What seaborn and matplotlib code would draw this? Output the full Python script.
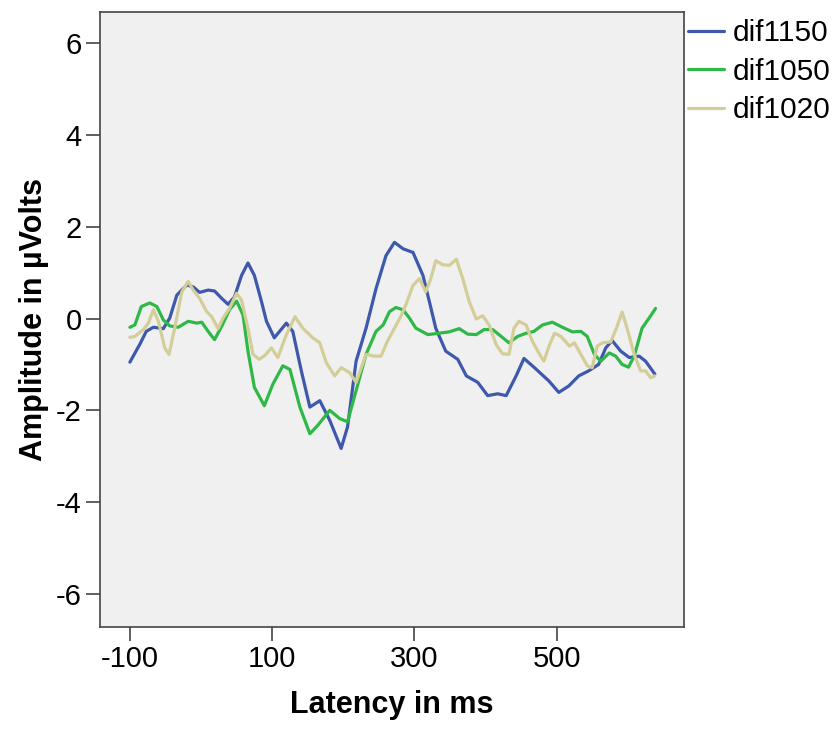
import numpy as np
import pandas as pd
import matplotlib
matplotlib.use("Agg")
import matplotlib.pyplot as plt
import seaborn as sns

# values (latency in ms, amplitude in µV)
ms_1150 = [-100, -86, -77, -67, -53, -44, -34, -20, -11, -2, 10, 19, 29, 38, 47, 57, 66, 75, 85, 92,
           103, 120, 129, 141, 153, 167, 181, 197, 206, 218, 232, 246, 260, 272, 284, 298, 312, 321, 330,
           344, 361, 373, 389, 403, 417, 429, 443, 454, 468, 489, 503, 517, 531, 545, 559, 569, 578, 590,
           602, 616, 625, 638]
amp_1150 = [-0.95, -0.56, -0.28, -0.19, -0.22, 0.01, 0.51, 0.73, 0.69, 0.57, 0.62, 0.60, 0.44, 0.31, 0.47,
            0.94, 1.21, 0.94, 0.37, -0.06, -0.42, -0.10, -0.28, -1.14, -1.93, -1.79, -2.22, -2.83, -2.36,
            -0.93, -0.21, 0.65, 1.37, 1.66, 1.52, 1.44, 0.94, 0.37, -0.21, -0.71, -0.89, -1.25, -1.39,
            -1.68, -1.64, -1.68, -1.25, -0.87, -1.06, -1.36, -1.61, -1.47, -1.25, -1.14, -1.00, -0.64,
            -0.48, -0.71, -0.85, -0.82, -0.93, -1.21]

ms_1050 = [-100, -93, -84, -72, -62, -53, -44, -32, -18, -6, 1, 10, 19, 29, 40, 50, 59, 66, 75, 89, 101,
           115, 125, 139, 153, 164, 181, 195, 206, 218, 232, 246, 256, 265, 274, 284, 293, 302, 319, 335,
           349, 363, 375, 387, 398, 410, 422, 433, 445, 457, 468, 480, 494, 508, 522, 534, 543, 553, 562,
           574, 583, 592, 601, 609, 620, 630, 639]
amp_1050 = [-0.19, -0.14, 0.26, 0.34, 0.26, -0.03, -0.16, -0.19, -0.06, -0.10, -0.08, -0.28, -0.46, -0.17,
            0.19, 0.38, 0.08, -0.71, -1.50, -1.90, -1.43, -1.03, -1.11, -1.93, -2.51, -2.33, -2.00, -2.18,
            -2.25, -1.57, -0.78, -0.28, -0.14, 0.15, 0.24, 0.19, 0.01, -0.21, -0.35, -0.32, -0.29, -0.22,
            -0.34, -0.35, -0.24, -0.24, -0.39, -0.53, -0.39, -0.32, -0.28, -0.14, -0.08, -0.19, -0.29,
            -0.28, -0.39, -0.78, -0.93, -0.75, -0.82, -1.00, -1.06, -0.82, -0.21, 0.01, 0.22]

ms_1020 = [-100, -93, -81, -74, -67, -60, -51, -45, -37, -27, -18, -11, -2, 8, 15, 24, 31, 40, 50, 57, 66,
           73, 82, 90, 99, 108, 120, 132, 143, 157, 167, 176, 188, 197, 209, 218, 232, 244, 253, 262, 272,
           281, 288, 298, 307, 316, 323, 330, 340, 349, 359, 368, 377, 387, 396, 405, 415, 424, 433, 440,
           447, 457, 466, 475, 482, 490, 497, 506, 518, 525, 534, 543, 550, 557, 564, 576, 584, 592, 599,
           609, 618, 625, 632, 638]
amp_1020 = [-0.41, -0.39, -0.24, -0.10, 0.19, -0.06, -0.64, -0.78, -0.21, 0.58, 0.81, 0.62, 0.44, 0.15,
            0.04, -0.22, 0.01, 0.22, 0.55, 0.40, -0.21, -0.78, -0.89, -0.80, -0.64, -0.85, -0.35, 0.04,
            -0.21, -0.42, -0.53, -0.96, -1.25, -1.07, -1.18, -1.39, -0.78, -0.82, -0.82, -0.50, -0.21,
            0.05, 0.30, 0.72, 0.87, 0.58, 0.87, 1.26, 1.17, 1.16, 1.29, 0.87, 0.37, -0.01, 0.06, -0.14,
            -0.57, -0.77, -0.78, -0.21, -0.06, -0.14, -0.50, -0.75, -0.93, -0.57, -0.32, -0.39, -0.60,
            -0.53, -0.78, -1.03, -1.07, -0.60, -0.53, -0.51, -0.21, 0.14, -0.21, -0.78, -1.14, -1.14,
            -1.29, -1.25]

series_names = ["dif1150", "dif1050", "dif1020"]
series_colors = ["#3E58AC", "#2EB848", "#D3CE97"]
x_ticks = [-100, 100, 300, 500]
y_ticks = [-6, -4, -2, 0, 2, 4, 6]

df = pd.concat([
    pd.DataFrame({"Latency": ms_1150, "Amplitude": amp_1150, "series": "dif1150"}),
    pd.DataFrame({"Latency": ms_1050, "Amplitude": amp_1050, "series": "dif1050"}),
    pd.DataFrame({"Latency": ms_1020, "Amplitude": amp_1020, "series": "dif1020"}),
], ignore_index=True)

sns.set_style("white")
plt.rcParams["font.family"] = ["Liberation Sans", "DejaVu Sans"]
plt.rcParams["axes.unicode_minus"] = False
plt.rcParams["text.color"] = "black"

fig = plt.figure(figsize=(8.37, 7.29), dpi=100)
ax = fig.add_axes([0.1195, 0.14, 0.6977, 0.8436])
ax.set_facecolor("#F0F0F0")

sns.lineplot(data=df, x="Latency", y="Amplitude", hue="series", hue_order=series_names,
             palette=dict(zip(series_names, series_colors)), estimator=None, sort=True,
             linewidth=2.3, ax=ax)

ax.set_xlim(-142, 679)
ax.set_ylim(-6.72, 6.68)
ax.set_xticks(x_ticks)
ax.set_yticks(y_ticks)
ax.tick_params(axis="both", direction="out", length=10, width=1.2, color="#444444",
               labelsize=21, pad=3, labelcolor="black")
ax.tick_params(left=True, bottom=True, top=False, right=False)
for s in ax.spines.values():
    s.set_color("#444444")
    s.set_linewidth(1.2)

ax.set_xlabel("Latency in ms", fontsize=22, fontweight="bold", labelpad=12, color="black")
ax.set_ylabel("Amplitude in µVolts", fontsize=22, fontweight="bold", labelpad=5, color="black")

handles, labels = ax.get_legend_handles_labels()
ax.legend(handles, labels, loc="upper left", bbox_to_anchor=(688 / 837, 1 - 19 / 729),
          bbox_transform=fig.transFigure, frameon=False, fontsize=21.5, handlelength=1.2,
          handletextpad=0.3, labelspacing=0.36, borderpad=0, borderaxespad=0)

fig.savefig("out.png", dpi=100)
